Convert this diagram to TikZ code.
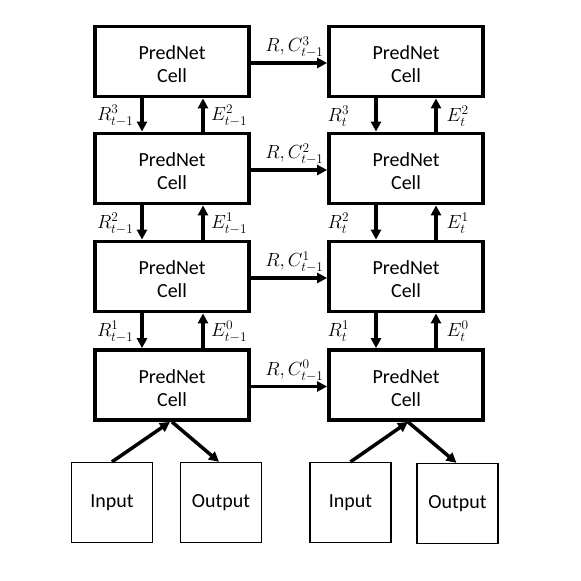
\RequirePackage{fix-cm}
\documentclass[tikz,border=0pt]{standalone}
\usepackage{fontspec}
\setmainfont{Carlito}
\usetikzlibrary{arrows.meta}
\begin{document}
\begin{tikzpicture}[x=1pt,y=-1pt,
  cell/.style={draw,line width=3.8pt,minimum width=154pt,minimum height=70pt,align=center,
    font=\fontsize{20}{23}\selectfont,inner sep=0pt},
  io/.style={draw,line width=1.3pt,minimum width=81pt,minimum height=80pt,
    font=\fontsize{20}{24}\selectfont,inner sep=0pt},
  arr/.style={line width=3.5pt,-{Triangle[length=10pt,width=10pt]}},
  lab/.style={inner sep=0.5pt,font=\fontsize{19}{22}\selectfont}]
\useasboundingbox (0,0) rectangle (581,581);
% cells
\foreach \r/\y in {3/61.5,2/168.5,1/276.5,0/385}{
  \node[cell] (L\r) at (172,\y) {\rule{0pt}{19.5pt}PredNet\\Cell};
  \node[cell] (R\r) at (406,\y) {\rule{0pt}{19.5pt}PredNet\\Cell};
}
% horizontal arrows
\foreach \r in {3,2,1,0}{
  \draw[arr] ([yshift=-1.5pt]L\r.east) -- ([yshift=-1.5pt]R\r.west);
  \node[lab,anchor=south east] (h\r) at ([xshift=-3pt,yshift=3pt]R\r.north west |- L\r.center) {$R,C^{\r}_{t-1}$};
}
% vertical arrows
\foreach \a/\b/\ra/\yy in {3/2/3/116,2/1/2/223.5,1/0/1/331.5}{
  \draw[arr] ([xshift=-30pt]L\a.south) -- ([xshift=-30pt]L\b.north);
  \draw[arr] ([xshift=31pt]L\b.north) -- ([xshift=31pt]L\a.south);
  \draw[arr] ([xshift=-30pt]R\a.south) -- ([xshift=-30pt]R\b.north);
  \draw[arr] ([xshift=30pt]R\b.north) -- ([xshift=30pt]R\a.south);
  \node[lab,anchor=east] (lr\a) at (134,\yy) {$R^{\ra}_{t-1}$};
  \node[lab,anchor=west] (le\a) at (210.5,\yy) {$E^{\b}_{t-1}$};
  \node[lab,anchor=west] (rr\a) at (327,\yy) {$R^{\ra}_{t}$};
  \node[lab,anchor=west] (re\a) at (446,\yy) {$E^{\b}_{t}$};
}
% input/output
\node[io] (inL) at (112,502.5) {Input};
\node[io] (outL) at (221,502.5) {Output};
\node[io] (inR) at (350.5,502.5) {Input};
\node[io] (outR) at (457.5,503.5) {Output};
\draw[arr] (inL.north) -- ([xshift=-2pt]L0.south);
\draw[arr] ([xshift=0pt]L0.south) -- ([xshift=-2pt]outL.north);
\draw[arr] (inR.north) -- ([xshift=2pt]R0.south);
\draw[arr] ([xshift=2pt]R0.south) -- ([xshift=-1pt]outR.north);
\end{tikzpicture}
\end{document}
